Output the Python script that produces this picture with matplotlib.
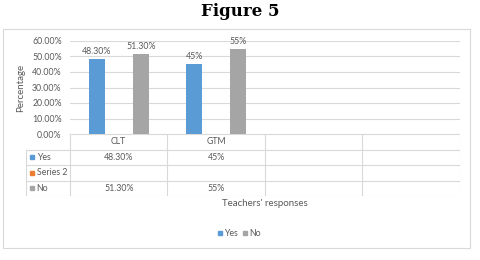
import numpy as np
import matplotlib
matplotlib.use("Agg")
from matplotlib import pyplot as plt
from matplotlib.patches import Rectangle

plt.rcParams['font.family'] = ['Lato', 'DejaVu Sans']

# data
categories = ["CLT", "GTM", "", ""]
series_names = ["Yes", "Series 2", "No"]
yes_vals = [0.483, 0.45, np.nan, np.nan]
s2_vals = [np.nan, np.nan, np.nan, np.nan]
no_vals = [0.513, 0.55, np.nan, np.nan]
yes_labels = ["48.30%", "45%", "", ""]
s2_labels = ["", "", "", ""]
no_labels = ["51.30%", "55%", "", ""]
yticks = [0, 0.1, 0.2, 0.3, 0.4, 0.5, 0.6]
ytick_labels = ["0.00%", "10.00%", "20.00%", "30.00%", "40.00%", "50.00%", "60.00%"]
colors = ["#5B9BD5", "#ED7D31", "#A5A5A5"]

W, H = 481, 260
txt = "#595959"
grid = "#D9D9D9"
fs = 6.3

def px(x0, y0, x1, y1):
    # pixel box (top-left origin) -> figure fraction rect
    return [x0 / W, 1 - y1 / H, (x1 - x0) / W, (y1 - y0) / H]

fig = plt.figure(figsize=(W / 100, H / 100), dpi=100)

# frame + title
over = fig.add_axes([0, 0, 1, 1])
over.set_xlim(0, W)
over.set_ylim(H, 0)
over.axis("off")
over.add_patch(Rectangle((3, 29), 467, 219, fill=False, ec=grid, lw=0.8))
over.text(240, 12, "Figure 5", ha="center", va="center", fontsize=12,
          fontweight="bold", family="DejaVu Serif")

# main chart
ax = fig.add_axes(px(70, 41, 460, 134))
x = np.arange(len(categories))
bw = 0.165
off = 0.226
all_vals = [yes_vals, s2_vals, no_vals]
all_labs = [yes_labels, s2_labels, no_labels]
for i, (vals, labs) in enumerate(zip(all_vals, all_labs)):
    xs = x + (i - 1) * off
    ax.bar(xs, vals, bw, color=colors[i], zorder=3)
    for xi, v, lab in zip(xs, vals, labs):
        if lab:
            ax.text(xi, v + 0.02, lab, ha="center", va="bottom", fontsize=fs, color=txt)
ax.set_xlim(-0.5, 3.5)
ax.set_ylim(0, 0.6)
ax.set_yticks(yticks)
ax.set_yticklabels(ytick_labels, fontsize=fs, color=txt)
ax.tick_params(axis="y", length=0, pad=6)
ax.set_xticks([])
ax.grid(axis="y", color=grid, lw=0.8, zorder=0)
for s in ax.spines.values():
    s.set_visible(False)
ax.set_ylabel("Percentage", fontsize=7, color=txt, labelpad=5)

# data table under the chart
tab = fig.add_axes(px(26, 134, 460, 196))
left = -0.5 - 44 / 97.5
tab.set_xlim(left, 3.5)
tab.set_ylim(4, 0)
tab.axis("off")
lk = dict(color=grid, lw=0.8)
tab.plot([-0.5, 3.5], [0, 0], **lk)
for r in range(1, 5):
    tab.plot([left, 3.5], [r, r], **lk)
tab.plot([left, left], [1, 4], **lk)
for c in np.arange(-0.5, 3.6, 1.0):
    tab.plot([c, c], [0, 4], **lk)
for xi, cat in zip(x, categories):
    tab.text(xi, 0.5, cat, ha="center", va="center", fontsize=fs, color=txt)
for r, (name, labs) in enumerate(zip(series_names, all_labs), start=1):
    tab.plot(left + 0.06, r + 0.5, marker="s", ms=3.5, color=colors[r - 1], ls="none")
    tab.text(left + 0.11, r + 0.5, name, ha="left", va="center", fontsize=fs, color=txt)
    for xi, lab in zip(x, labs):
        tab.text(xi, r + 0.5, lab, ha="center", va="center", fontsize=fs, color=txt)

over.text(265, 204, "Teachers' responses", ha="center", va="center", fontsize=7, color=txt)

# legend
over.plot(220, 233, marker="s", ms=3.5, color=colors[0])
over.text(224, 233, "Yes", ha="left", va="center", fontsize=fs, color=txt)
over.plot(245, 233, marker="s", ms=3.5, color=colors[2])
over.text(249, 233, "No", ha="left", va="center", fontsize=fs, color=txt)

plt.savefig("out.png", dpi=100)
